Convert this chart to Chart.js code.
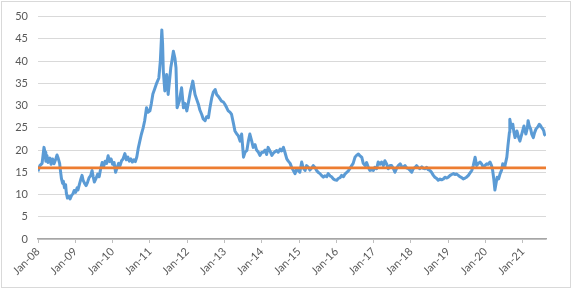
<!DOCTYPE html>
<html>
<head>
<meta charset="utf-8">
<script src="https://cdn.jsdelivr.net/npm/chart.js@4"></script>
<style>
  body { margin: 0; background: #fff; }
  #chart { display: block; outline: 1px solid #d9d9d9; outline-offset: -2px; }
</style>
</head>
<body>
<canvas id="chart" width="572" height="289"></canvas>
<script>
// dates as fractional years
var dates = [
  2008.00, 2008.05, 2008.11, 2008.16, 2008.19, 2008.21, 2008.24, 2008.27, 2008.32, 2008.35,
  2008.39, 2008.43, 2008.47, 2008.51, 2008.54, 2008.58, 2008.60, 2008.63, 2008.66, 2008.68,
  2008.71, 2008.74, 2008.76, 2008.79, 2008.83, 2008.86, 2008.90, 2008.94, 2008.97,
  2009.01, 2009.05, 2009.07, 2009.11, 2009.15, 2009.18, 2009.21, 2009.25, 2009.29, 2009.33,
  2009.37, 2009.41, 2009.45, 2009.48, 2009.51, 2009.55, 2009.60, 2009.64, 2009.68, 2009.72,
  2009.76, 2009.80, 2009.84, 2009.88, 2009.92, 2009.96,
  2010.00, 2010.04, 2010.08, 2010.12, 2010.16, 2010.20, 2010.24, 2010.28, 2010.33, 2010.37,
  2010.41, 2010.45, 2010.49, 2010.53, 2010.57, 2010.61, 2010.65, 2010.69, 2010.73, 2010.77,
  2010.82, 2010.86, 2010.91, 2010.95,
  2011.00, 2011.04, 2011.08, 2011.13, 2011.18, 2011.24, 2011.28, 2011.32, 2011.34, 2011.36,
  2011.40, 2011.45, 2011.49, 2011.56, 2011.59, 2011.63, 2011.67, 2011.70, 2011.73, 2011.79,
  2011.85, 2011.90, 2011.94, 2011.99,
  2012.04, 2012.08, 2012.15, 2012.21, 2012.25, 2012.30, 2012.34, 2012.39, 2012.43, 2012.48,
  2012.52, 2012.57, 2012.61, 2012.66, 2012.70, 2012.75, 2012.79, 2012.83, 2012.88, 2012.92,
  2012.97,
  2013.01, 2013.06, 2013.10, 2013.15, 2013.19, 2013.24, 2013.28, 2013.33, 2013.37, 2013.42,
  2013.46, 2013.51, 2013.55, 2013.60, 2013.64, 2013.68, 2013.73, 2013.77, 2013.82, 2013.86,
  2013.91, 2013.95,
  2014.00, 2014.04, 2014.09, 2014.13, 2014.17, 2014.22, 2014.27, 2014.31, 2014.35, 2014.40,
  2014.44, 2014.49, 2014.53, 2014.58, 2014.62, 2014.67, 2014.71, 2014.76, 2014.80, 2014.84,
  2014.89, 2014.94, 2014.98,
  2015.02, 2015.07, 2015.11, 2015.16, 2015.20, 2015.25, 2015.29, 2015.34, 2015.38, 2015.43,
  2015.47, 2015.51, 2015.56, 2015.60, 2015.65, 2015.69, 2015.74, 2015.78, 2015.83, 2015.87,
  2015.92, 2015.96,
  2016.01, 2016.05, 2016.10, 2016.14, 2016.19, 2016.23, 2016.28, 2016.32, 2016.36, 2016.41,
  2016.45, 2016.50, 2016.54, 2016.59, 2016.63, 2016.68, 2016.72, 2016.77, 2016.81, 2016.86,
  2016.90, 2016.95, 2016.99,
  2017.03, 2017.08, 2017.12, 2017.17, 2017.21, 2017.26, 2017.30, 2017.35, 2017.39, 2017.44,
  2017.48, 2017.53, 2017.57, 2017.62, 2017.66, 2017.71, 2017.75, 2017.79, 2017.84, 2017.88,
  2017.93, 2017.97,
  2018.02, 2018.06, 2018.11, 2018.15, 2018.20, 2018.24, 2018.29, 2018.33, 2018.38, 2018.42,
  2018.46, 2018.51, 2018.55, 2018.60, 2018.64, 2018.69, 2018.73, 2018.78, 2018.82, 2018.87,
  2018.91, 2018.96,
  2019.00, 2019.05, 2019.09, 2019.14, 2019.18, 2019.22, 2019.27, 2019.31, 2019.36, 2019.40,
  2019.45, 2019.49, 2019.54, 2019.58, 2019.63, 2019.67, 2019.72, 2019.76, 2019.81, 2019.85,
  2019.90, 2019.94, 2019.98,
  2020.03, 2020.07, 2020.12, 2020.16, 2020.19, 2020.22, 2020.25, 2020.28, 2020.31, 2020.35,
  2020.39, 2020.43, 2020.46, 2020.50, 2020.52, 2020.57, 2020.60, 2020.64, 2020.65, 2020.69,
  2020.73, 2020.76, 2020.79, 2020.84, 2020.88, 2020.92, 2020.97,
  2021.00, 2021.03, 2021.06, 2021.08, 2021.12, 2021.14, 2021.17, 2021.21, 2021.24, 2021.28,
  2021.31, 2021.35, 2021.40, 2021.44, 2021.47, 2021.50, 2021.53, 2021.56, 2021.58, 2021.61
];
var values = [
  15.2, 16.5, 17.0, 20.6, 19.5, 17.5, 18.8, 17.2, 18.2, 16.8,
  18.0, 16.9, 17.8, 18.9, 18.2, 17.0, 15.5, 13.5, 12.5, 13.0,
  11.5, 12.2, 10.3, 9.2, 9.6, 9.0, 9.8, 10.2, 10.9,
  10.5, 11.5, 11.0, 12.3, 13.5, 14.3, 13.2, 12.5, 12.0, 12.8,
  13.8, 14.2, 15.4, 14.0, 12.8, 13.5, 14.6, 14.0, 15.8, 17.2,
  16.3, 17.5, 17.0, 18.7, 17.4, 18.0,
  16.8, 17.2, 15.0, 16.0, 17.0, 16.5, 17.6, 18.0, 19.2, 17.8,
  18.4, 17.5, 18.0, 17.3, 17.8, 17.4, 18.5, 20.5, 22.0, 23.5,
  25.0, 26.6, 29.5, 28.5,
  28.8, 30.5, 32.6, 33.8, 35.0, 36.2, 40.0, 47.0, 44.0, 37.7,
  33.3, 37.0, 32.5, 38.5, 40.0, 42.2, 40.7, 38.5, 29.5, 31.0,
  34.0, 29.5, 30.5, 28.8,
  31.0, 32.9, 35.5, 32.5, 31.5, 30.3, 29.0, 28.0, 27.0, 26.6,
  27.5, 27.3, 29.5, 31.8, 33.0, 33.6, 32.5, 32.1, 31.5, 31.0,
  30.8,
  30.3, 29.5, 28.8, 28.5, 28.0, 26.0, 24.3, 23.6, 23.2, 22.0,
  23.6, 18.4, 19.5, 19.9, 22.0, 23.6, 22.0, 20.6, 21.2, 20.0,
  19.5, 18.8,
  19.5, 19.5, 20.0, 19.0, 20.6, 19.8, 18.8, 19.3, 19.6, 19.9,
  19.5, 20.2, 19.8, 20.6, 19.5, 18.0, 17.5, 17.0, 16.1, 15.5,
  14.7, 15.8, 15.4,
  15.0, 17.3, 16.0, 15.4, 16.5, 16.1, 15.5, 16.0, 16.5, 16.0,
  15.4, 15.0, 14.7, 14.3, 13.9, 14.2, 14.0, 14.7, 14.2, 14.0,
  13.5, 13.3,
  13.2, 13.6, 13.8, 14.3, 14.0, 14.6, 15.0, 15.3, 15.8, 16.5,
  17.0, 18.4, 18.8, 19.1, 18.7, 18.4, 17.0, 16.5, 17.2, 16.0,
  15.4, 15.6, 15.4,
  16.1, 15.8, 17.3, 16.8, 17.3, 16.5, 17.6, 16.8, 15.8, 16.5,
  16.5, 15.8, 15.0, 16.0, 16.5, 16.9, 16.3, 16.1, 16.5, 16.0,
  15.8, 15.5,
  15.0, 15.8, 16.1, 16.5, 16.0, 15.8, 16.2, 15.9, 15.8, 16.1,
  15.6, 15.4, 15.0, 14.3, 13.9, 13.6, 13.2, 13.5, 13.3, 13.5,
  13.9, 13.7,
  13.9, 14.3, 14.5, 14.7, 14.5, 14.6, 14.3, 14.0, 13.8, 13.5,
  13.7, 13.9, 14.3, 14.8, 15.4, 16.5, 18.4, 16.5, 17.0, 17.3,
  16.8, 16.1, 16.5,
  16.9, 16.8, 17.3, 16.5, 15.4, 13.5, 11.0, 12.5, 13.9, 13.5,
  14.7, 15.5, 16.9, 16.2, 16.5, 18.4, 21.0, 24.0, 26.9, 25.0,
  25.8, 24.0, 22.8, 24.3, 23.0, 22.0, 23.6,
  24.5, 25.4, 24.2, 23.6, 25.0, 26.6, 25.5, 24.7, 23.5, 22.8,
  23.8, 24.7, 25.2, 25.8, 25.5, 25.1, 24.8, 24.3, 23.5, 23.2
];
var benchmark = 16;
var startYear = 2008;
var endYear = 2021.62;
var monthLabel = 'Jan';

var series = dates.map(function (d, i) { return { x: d, y: values[i] }; });
var flat = [{ x: startYear, y: benchmark }, { x: endYear, y: benchmark }];

var tickFont = { family: 'Lato, "Open Sans", sans-serif', size: 11 };

new Chart(document.getElementById('chart').getContext('2d'), {
  type: 'line',
  data: {
    datasets: [{
      data: flat,
      borderColor: '#ED7D31',
      borderWidth: 2.75,
      pointRadius: 0,
      order: 0
    }, {
      data: series,
      borderColor: '#5B9BD5',
      borderWidth: 3,
      borderJoinStyle: 'round',
      pointRadius: 0,
      tension: 0,
      order: 1
    }]
  },
  options: {
    responsive: false,
    animation: false,
    devicePixelRatio: 1,
    layout: { padding: { top: 15, right: 26, left: 0, bottom: 0 } },
    plugins: {
      legend: { display: false },
      tooltip: { enabled: false }
    },
    scales: {
      x: {
        type: 'linear',
        min: startYear,
        max: endYear,
        afterFit: function (s) { s.height = 50; },
        grid: { drawOnChartArea: false, drawTicks: true, tickLength: 4, color: '#bfbfbf' },
        border: { display: true, color: '#a6a6a6', width: 1.5 },
        ticks: {
          stepSize: 1,
          includeBounds: false,
          autoSkip: false,
          minRotation: 45,
          maxRotation: 45,
          padding: 2,
          color: '#595959',
          font: tickFont,
          callback: function (v) {
            return monthLabel + '-' + String(Math.round(v) % 100).padStart(2, '0');
          }
        }
      },
      y: {
        min: 0,
        max: 50,
        afterFit: function (s) { s.width = 38; },
        grid: { color: '#d9d9d9', drawTicks: false },
        border: { display: false },
        ticks: { stepSize: 5, padding: 10, color: '#595959', font: tickFont }
      }
    }
  }
});
</script>
</body>
</html>
